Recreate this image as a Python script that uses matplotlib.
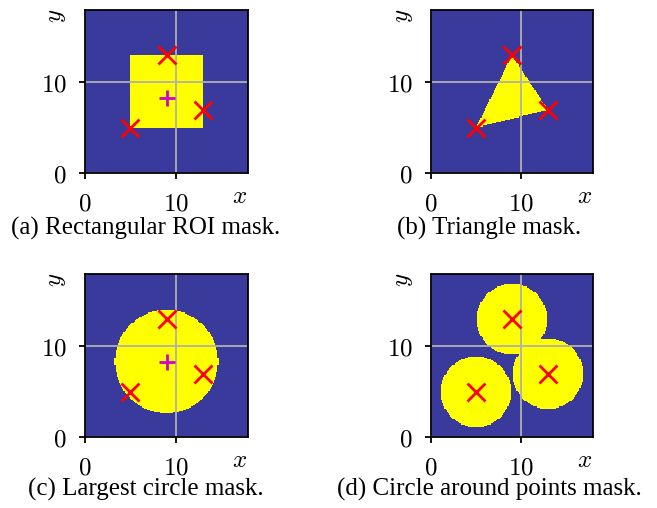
import numpy as np
import matplotlib
matplotlib.use('Agg')
import matplotlib.pyplot as plt
from matplotlib.colors import ListedColormap
from matplotlib.path import Path

plt.rcParams['mathtext.fontset'] = 'cm'

# data
points_x = [5, 9, 13]
points_y = [5, 13, 7]
rect_x = [5, 13]
rect_y = [5, 13]
big_circle_radius = 5.7
point_circle_radius = 3.9
lim = [0, 18]
ticks = [0, 10]
captions = ['(a) Rectangular ROI mask.', '(b) Triangle mask.',
            '(c) Largest circle mask.', '(d) Circle around points mask.']

blue = '#3a3a9c'
yellow = '#ffff00'
cmap = ListedColormap([blue, yellow])

# mask grid
res = 0.125
cx = np.arange(lim[0] + res / 2, lim[1], res)
X, Y = np.meshgrid(cx, cx)
cen_x = np.mean(points_x)
cen_y = np.mean(points_y)

mask_rect = (X >= rect_x[0]) & (X <= rect_x[1]) & (Y >= rect_y[0]) & (Y <= rect_y[1])
tri = Path(list(zip(points_x, points_y)))
mask_tri = tri.contains_points(np.c_[X.ravel(), Y.ravel()]).reshape(X.shape)
mask_big = (X - cen_x) ** 2 + (Y - cen_y) ** 2 <= big_circle_radius ** 2
mask_pts = np.zeros_like(X, dtype=bool)
for px, py in zip(points_x, points_y):
    mask_pts |= (X - px) ** 2 + (Y - py) ** 2 <= point_circle_radius ** 2

masks = [mask_rect, mask_tri, mask_big, mask_pts]
show_centroid = [True, False, True, False]

W, H = 657, 508
fig = plt.figure(figsize=(W / 100, H / 100), dpi=100)

boxes = [(85, 10, 248, 173), (431, 10, 593, 173),
         (85, 274, 248, 437), (431, 274, 593, 437)]
cap_pos = [(146, 228), (489, 228), (146, 489), (489, 489)]

for i in range(4):
    l, t, r, b = boxes[i]
    ax = fig.add_axes([l / W, 1 - b / H, (r - l) / W, (b - t) / H])
    ax.imshow(masks[i].astype(int), cmap=cmap, vmin=0, vmax=1, origin='lower',
              extent=[lim[0], lim[1], lim[0], lim[1]], interpolation='nearest',
              aspect='auto')
    ax.plot(points_x, points_y, 'x', color='red', ms=13, mew=2)
    if show_centroid[i]:
        ax.plot(cen_x, cen_y, '+', color='#d000d0', ms=11, mew=2)
    ax.set_xlim(lim)
    ax.set_ylim(lim)
    ax.set_xticks(ticks)
    ax.set_yticks(ticks)
    ax.set_xticklabels(['$%d$' % v for v in ticks])
    ax.set_yticklabels(['$%d$' % v for v in ticks])
    ax.tick_params(direction='out', length=4, width=1.3, labelsize=18, pad=9)
    ax.grid(True, color='#b0b0b0', lw=1.3)
    for s in ax.spines.values():
        s.set_linewidth(1.3)
    ax.set_xlabel('$x$', fontsize=18)
    ax.xaxis.set_label_coords(0.95, -0.07)
    ax.xaxis.label.set_va('top')
    ax.set_ylabel('$y$', fontsize=18)
    ax.yaxis.set_label_coords(-0.175, 0.965)
    ax.yaxis.label.set_va('center')
    fig.text(cap_pos[i][0] / W, 1 - cap_pos[i][1] / H, captions[i],
             ha='center', va='center', fontsize=18, family='Liberation Serif')

fig.savefig('out.png', dpi=100)
